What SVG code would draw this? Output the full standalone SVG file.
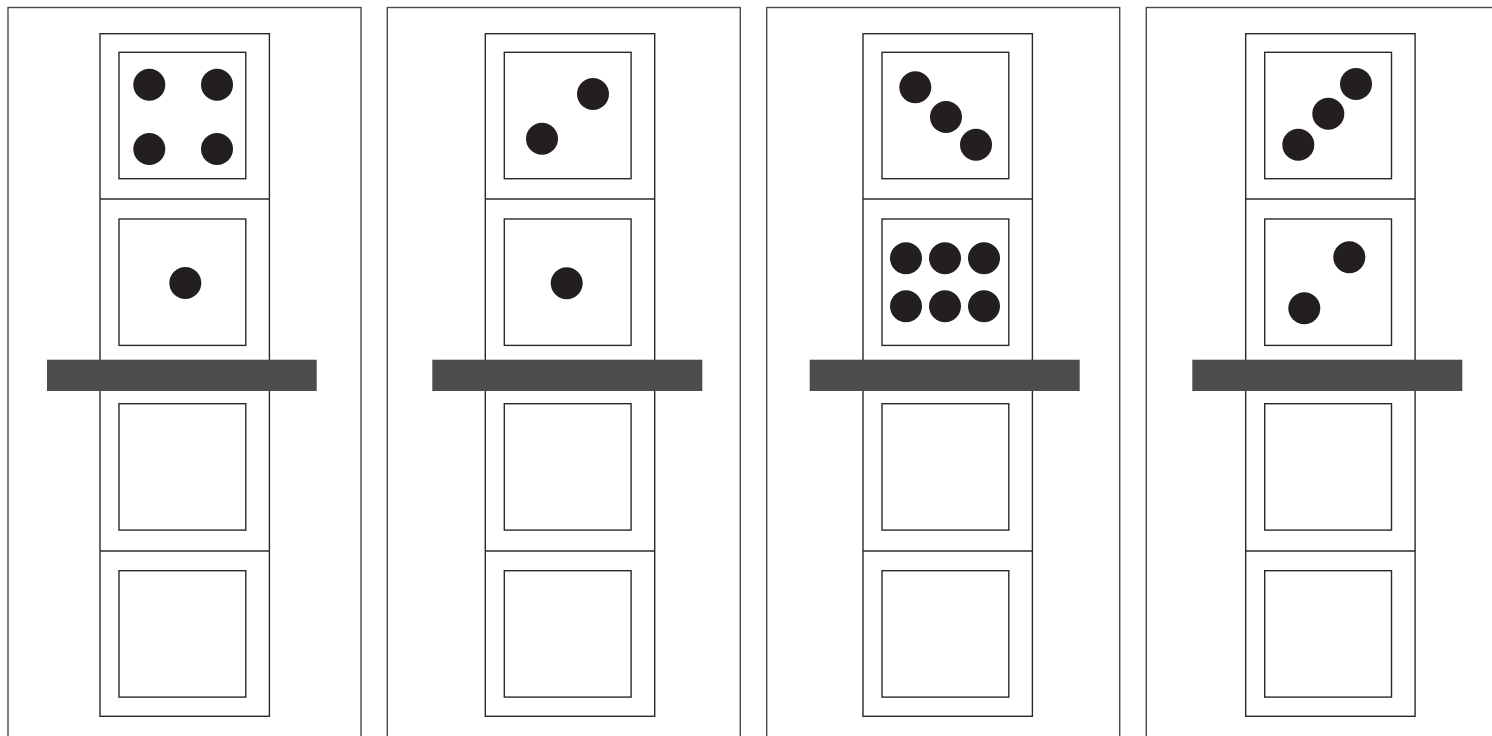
<svg xmlns="http://www.w3.org/2000/svg" width="1492" height="736" viewBox="0 0 1492 736">
<style>
.panel{fill:#fff;stroke:#4a4a4a;stroke-width:1.4}
.col{fill:#fff;stroke:#2b2829;stroke-width:1.4}
.sq{fill:#fff;stroke:#2b2829;stroke-width:1.4}
.div{stroke:#2b2829;stroke-width:1.4}
.bar{fill:#4e4d4e}
.dot{fill:#231f20}
</style>
<rect width="1492" height="736" fill="#fff"/>
<defs>
<g id="domino">
<rect class="col" x="0" y="0" width="169.4" height="682.6"/>
<line class="div" x1="0" y1="165.3" x2="169.4" y2="165.3"/>
<line class="div" x1="0" y1="352" x2="169.4" y2="352"/>
<line class="div" x1="0" y1="517.3" x2="169.4" y2="517.3"/>
<rect class="sq" x="19" y="18.6" width="126.8" height="126.4"/>
<rect class="sq" x="19" y="185.3" width="126.8" height="126.4"/>
<rect class="sq" x="19" y="370" width="126.8" height="126.4"/>
<rect class="sq" x="19" y="537" width="126.8" height="126.4"/>
</g>
</defs>
<g id="panel1">
<rect class="panel" x="8" y="7.5" width="353" height="740"/>
<use href="#domino" x="100" y="33.7"/>
<rect class="bar" x="47" y="359.7" width="269.7" height="31.3"/>
<circle class="dot" cx="149.3" cy="84.7" r="16"/>
<circle class="dot" cx="217" cy="84.7" r="16"/>
<circle class="dot" cx="149.3" cy="149" r="16"/>
<circle class="dot" cx="217" cy="149" r="16"/>
<circle class="dot" cx="185.3" cy="283" r="16"/>
</g>
<g id="panel2">
<rect class="panel" x="387.3" y="7.5" width="353" height="740"/>
<use href="#domino" x="485.3" y="33.7"/>
<rect class="bar" x="432.3" y="359.7" width="270" height="31.3"/>
<circle class="dot" cx="593" cy="94" r="16"/>
<circle class="dot" cx="542" cy="138.7" r="16"/>
<circle class="dot" cx="566.7" cy="283.3" r="16"/>
</g>
<g id="panel3">
<rect class="panel" x="766.7" y="7.5" width="353" height="740"/>
<use href="#domino" x="863" y="33.7"/>
<rect class="bar" x="809.7" y="359.7" width="270" height="31.3"/>
<circle class="dot" cx="915.3" cy="87.3" r="16"/>
<circle class="dot" cx="946" cy="117" r="16"/>
<circle class="dot" cx="976" cy="144.7" r="16"/>
<circle class="dot" cx="906" cy="258.3" r="16"/>
<circle class="dot" cx="945" cy="258.3" r="16"/>
<circle class="dot" cx="984" cy="258.3" r="16"/>
<circle class="dot" cx="906" cy="306.3" r="16"/>
<circle class="dot" cx="945" cy="306.3" r="16"/>
<circle class="dot" cx="984" cy="306.3" r="16"/>
</g>
<g id="panel4">
<rect class="panel" x="1146.3" y="7.5" width="353" height="740"/>
<use href="#domino" x="1245.7" y="33.7"/>
<rect class="bar" x="1192.3" y="359.7" width="270" height="31.3"/>
<circle class="dot" cx="1356" cy="84" r="16"/>
<circle class="dot" cx="1328.3" cy="113.7" r="16"/>
<circle class="dot" cx="1298.3" cy="144.7" r="16"/>
<circle class="dot" cx="1349.3" cy="257.3" r="16"/>
<circle class="dot" cx="1304.3" cy="308.3" r="16"/>
</g>
</svg>
